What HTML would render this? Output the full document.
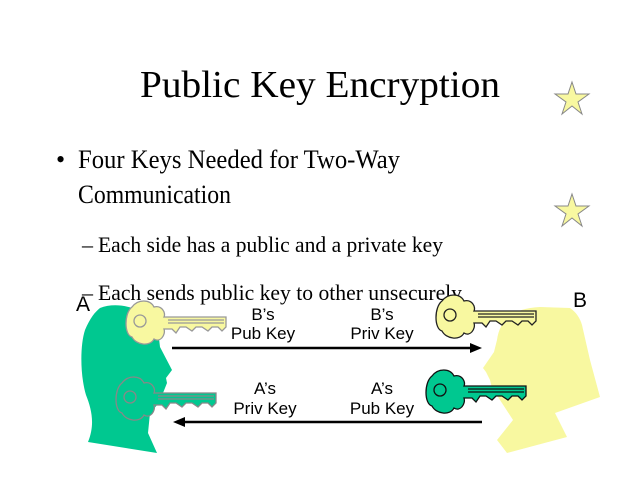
<!DOCTYPE html>
<html><head><meta charset="utf-8"><style>
html,body{margin:0;padding:0;background:#fff}
svg{display:block}
.s{font-family:"Liberation Serif",serif;fill:#000}
.a{font-family:"Liberation Sans",sans-serif;fill:#000;font-size:17px;text-anchor:middle}
</style></head><body>
<svg width="640" height="480" viewBox="0 0 640 480" xmlns="http://www.w3.org/2000/svg">
<defs>
<g id="key">
<path d="M0,-14 C6,-22 18,-22 22,-14 C30,-16 34,-8 32,-4 L94,-4 L94,6 L90,10 L86,6 L80,6 L76,10 L70,6 L64,6 L60,10 L54,6 L48,6 L44,12 L40,8 L32,8 C34,14 28,22 22,18 C18,26 4,24 0,16 C-8,14 -8,-8 0,-14 Z"/>
<circle cx="8" cy="0" r="6" fill="none"/>
<path d="M36,-1 L92,-1 M36,2 L92,2" fill="none"/>
</g>
</defs>
<text class="s" x="140" y="97" font-size="38" textLength="360" lengthAdjust="spacingAndGlyphs">Public Key Encryption</text>
<text class="s" x="56" y="168" font-size="26">•</text>
<text class="s" x="78" y="168" font-size="26" textLength="322" lengthAdjust="spacingAndGlyphs">Four Keys Needed for Two-Way</text>
<text class="s" x="78" y="203" font-size="26" textLength="153" lengthAdjust="spacingAndGlyphs">Communication</text>
<text class="s" x="82" y="252" font-size="22">–</text>
<text class="s" x="98" y="252" font-size="22" textLength="345" lengthAdjust="spacingAndGlyphs">Each side has a public and a private key</text>
<polygon points="572,82 576,94 589,94 578,102 582,114 572,106 562,114 566,102 555,94 568,94" fill="#f8f8a0" stroke="#888" stroke-width="1"/>
<polygon points="572,194 576,206 589,206 578,214 582,226 572,218 562,226 566,214 555,206 568,206" fill="#f8f8a0" stroke="#888" stroke-width="1"/>
<path d="M100,308 C120,300 150,310 158,330 L160,347 L172,370 L166,378 L167,383 L163,393 L158,404 L150,413 L148,433 L157,453 L88,442 C95,425 92,410 86,395 C80,375 80,345 85,330 C90,318 95,312 100,308 Z" fill="#00c890"/>
<path d="M497,340 C500,318 515,308 540,307 L570,308 C576,312 580,318 582,325 L590,360 L600,397 L555,413 L567,437 L507,453 L497,440 L513,420 L500,400 L492,388 L490,380 L486,372 L483,368 L494,352 Z" fill="#f8f8a0"/>
<text class="s" x="82" y="300" font-size="22">–</text>
<text class="s" x="98" y="300" font-size="22" textLength="364" lengthAdjust="spacingAndGlyphs">Each sends public key to other unsecurely</text>
<text x="76" y="311" font-family="Liberation Sans,sans-serif" font-size="21">A</text>
<text x="573" y="307" font-family="Liberation Sans,sans-serif" font-size="21">B</text>
<use href="#key" transform="translate(132,321)" fill="#f8f8a0" stroke="#999" stroke-width="1.3"/>
<use href="#key" transform="translate(122,397)" fill="#00c890" stroke="#888" stroke-width="1.3"/>
<use href="#key" transform="translate(442,315)" fill="#f8f8a0" stroke="#222" stroke-width="1.3"/>
<use href="#key" transform="translate(432,390)" fill="#00c890" stroke="#111" stroke-width="1.3"/>
<text class="a" x="263" y="320">B’s</text>
<text class="a" x="263" y="339">Pub Key</text>
<text class="a" x="382" y="320">B’s</text>
<text class="a" x="382" y="339">Priv Key</text>
<text class="a" x="265" y="394">A’s</text>
<text class="a" x="265" y="414">Priv Key</text>
<text class="a" x="382" y="394">A’s</text>
<text class="a" x="382" y="414">Pub Key</text>
<line x1="172" y1="348" x2="472" y2="348" stroke="#000" stroke-width="2.5"/>
<polygon points="482,348 470,343 470,353" fill="#000"/>
<line x1="184" y1="422" x2="482" y2="422" stroke="#000" stroke-width="2.5"/>
<polygon points="173,422 185,417 185,427" fill="#000"/>
</svg>
</body></html>
